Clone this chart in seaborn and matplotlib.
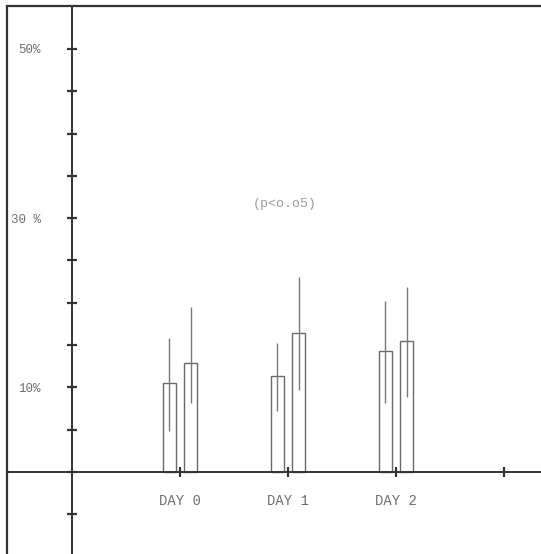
import pandas as pd
import matplotlib
matplotlib.use("Agg")
import matplotlib.pyplot as plt
from matplotlib.lines import Line2D
import seaborn as sns

# values (percent)
days = ["DAY 0", "DAY 1", "DAY 2"]
day_pos = [1, 2, 3]
groups = ["A", "B"]
mean_a = [10.5, 11.3, 14.3]
mean_b = [12.9, 16.4, 15.5]
err_up_a = [5.3, 3.9, 5.9]
err_dn_a = [5.6, 4.1, 6.1]
err_up_b = [6.6, 6.7, 6.4]
err_dn_b = [4.8, 6.7, 6.6]
ytick_vals = list(range(-5, 51, 5))
ytick_text = {10: "10%", 30: "30 %", 50: "50%"}
xtick_vals = [1, 2, 3, 4]
xtick_text = days + [""]
note = "(p<o.o5)"

df = pd.DataFrame({
    "pos": day_pos * 2,
    "group": ["A"] * 3 + ["B"] * 3,
    "pct": mean_a + mean_b,
})

sns.set_style("white")
plt.rcParams["font.family"] = ["Liberation Mono", "DejaVu Sans"]

axis_col = "#333333"
bar_col = "#6a6a6a"
text_col = "#6f6f6f"

fig = plt.figure(figsize=(5.41, 5.54), dpi=100)
ax = fig.add_axes([7 / 541, 0, 534 / 541, 548 / 554])

sns.barplot(data=df, x="pos", y="pct", hue="group", hue_order=groups,
            native_scale=True, width=0.39, gap=0.4, fill=False,
            palette=[bar_col, bar_col], linewidth=1.0, errorbar=None,
            legend=False, ax=ax)

# error bars (mean +/- sd), drawn through the bar centre
bars = sorted(ax.patches, key=lambda p: p.get_x())
means = [m for pair in zip(mean_a, mean_b) for m in pair]
ups = [e for pair in zip(err_up_a, err_up_b) for e in pair]
dns = [e for pair in zip(err_dn_a, err_dn_b) for e in pair]
for bar, m, u, d in zip(bars, means, ups, dns):
    xc = bar.get_x() + bar.get_width() / 2
    ax.vlines(xc, m - d, m + u, color="#7a7a7a", lw=1.0, zorder=3)

ax.set_xlim(-0.602, 4.343)
ax.set_ylim(-9.69, 55.08)

for s in ["left", "bottom"]:
    ax.spines[s].set_position(("data", 0))
    ax.spines[s].set_color(axis_col)
    ax.spines[s].set_linewidth(1.4)
ax.spines["right"].set_visible(False)
ax.spines["top"].set_color(axis_col)
ax.spines["top"].set_linewidth(1.6)

ax.set_yticks(ytick_vals)
ax.set_yticklabels([ytick_text.get(v, "") for v in ytick_vals])
ax.set_xticks(xtick_vals)
ax.set_xticklabels(xtick_text)
ax.tick_params(axis="y", left=True, direction="inout", length=7, width=1.6,
               color=axis_col, pad=19, labelsize=9, labelcolor=text_col)
ax.tick_params(axis="x", bottom=True, direction="inout", length=7, width=1.6,
               color=axis_col, pad=12, labelsize=10, labelcolor=text_col)
ax.set_xlabel("")
ax.set_ylabel("")

ax.text(1.97, 31.7, note, ha="center", va="center", fontsize=9.5, color="#9a9a9a")

# left edge of the original frame
fig.add_artist(Line2D([7 / 541, 7 / 541], [0, 548 / 554], transform=fig.transFigure,
                      color=axis_col, lw=1.6))

fig.savefig("out.png", dpi=100)
